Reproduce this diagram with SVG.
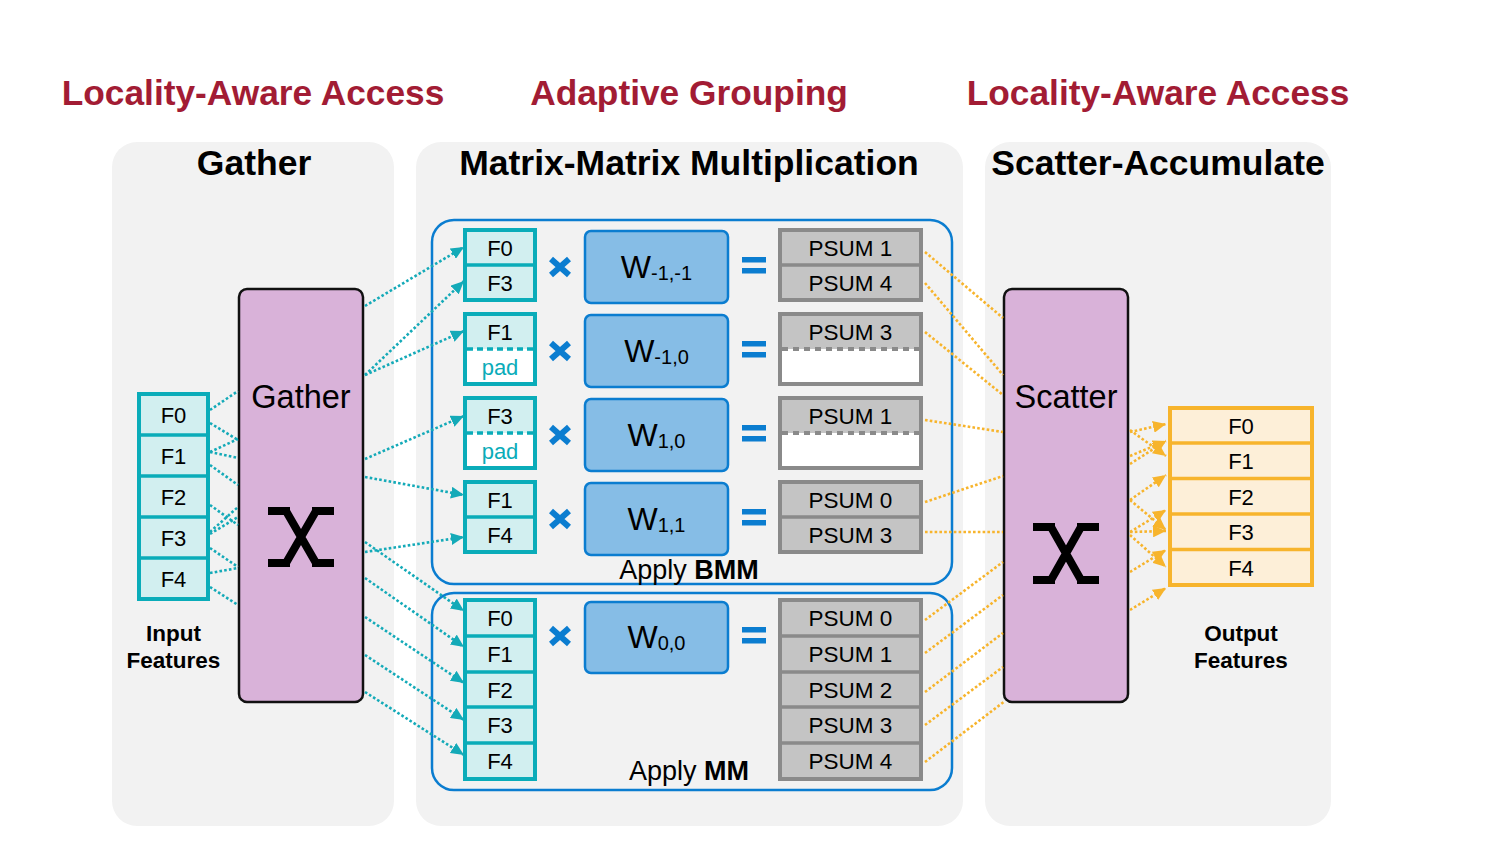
<svg xmlns="http://www.w3.org/2000/svg" width="1500" height="855" viewBox="0 0 1500 855">
<defs>
<style>
text{font-family:'Liberation Sans',Arial,sans-serif}
.panel{fill:#f2f2f2}
.hdr{font-size:35.3px;font-weight:bold;fill:#a21c34;text-anchor:middle}
.ttl{font-size:35.5px;font-weight:bold;fill:#000;text-anchor:middle}
.feat{fill:#d2eff0;stroke:#0aacb9;stroke-width:4}
.fdiv{stroke:#0aacb9;stroke-width:3.5}
.fdash{stroke:#0aacb9;stroke-width:3.5;stroke-dasharray:6 4}
.ft{font-size:22px;fill:#000;text-anchor:middle}
.pad{font-size:22px;fill:#0aacb9;text-anchor:middle}
.psum{fill:#c4c4c4;stroke:#8a8a8a;stroke-width:4}
.pdiv{stroke:#8a8a8a;stroke-width:3.5}
.pdash{stroke:#8a8a8a;stroke-width:4;stroke-dasharray:6 5}
.pt{font-size:22.5px;fill:#000;text-anchor:middle}
.wbox{fill:#86bde6;stroke:#0b7dd0;stroke-width:2.5}
.wt{fill:#000;text-anchor:middle}
.op{stroke:#0b7dd0;stroke-width:6;fill:none}
.eq{fill:#0b7dd0}
.grp{fill:none;stroke:#0b7dd0;stroke-width:2.5}
.xbox{fill:#d9b2d9;stroke:#111;stroke-width:2.5}
.xsym{fill:none;stroke:#000;stroke-width:8}
.big{font-size:32.5px;fill:#000;text-anchor:middle}
.lbl{font-size:22.5px;font-weight:bold;fill:#000;text-anchor:middle}
.apply{font-size:27px;fill:#000;text-anchor:middle}
.tc{fill:none;stroke:#14aab8;stroke-width:2.6;stroke-dasharray:2.6 2.2}
.oc{fill:none;stroke:#f7b42c;stroke-width:2.6;stroke-dasharray:2.6 2.2}
</style>
<marker id="ta" markerUnits="userSpaceOnUse" markerWidth="14" markerHeight="12" refX="13" refY="6" orient="auto">
<path d="M0,0 L13,6 L0,12 z" fill="#14aab8"/>
</marker>
<marker id="oa" markerUnits="userSpaceOnUse" markerWidth="14" markerHeight="12" refX="13" refY="6" orient="auto">
<path d="M0,0 L13,6 L0,12 z" fill="#f7b42c"/>
</marker>
</defs>
<rect width="1500" height="855" fill="#fff"/>

<g id="panels">
<rect class="panel" x="112" y="142" width="282" height="684" rx="25"/>
<rect class="panel" x="416" y="142" width="547" height="684" rx="25"/>
<rect class="panel" x="985" y="142" width="346" height="684" rx="25"/>
</g>

<g id="headers">
<text class="hdr" x="253" y="105">Locality-Aware Access</text>
<text class="hdr" x="689" y="105">Adaptive Grouping</text>
<text class="hdr" x="1158" y="105">Locality-Aware Access</text>
<text class="ttl" x="254" y="175">Gather</text>
<text class="ttl" x="689" y="175">Matrix-Matrix Multiplication</text>
<text class="ttl" x="1158" y="175">Scatter-Accumulate</text>
</g>

<g id="bmm-group">
<rect class="grp" x="432" y="220" width="520" height="364" rx="22"/>
<text class="apply" x="689" y="579">Apply <tspan font-weight="bold">BMM</tspan></text>
</g>
<g id="mm-group">
<rect class="grp" x="432" y="593" width="520" height="197" rx="22"/>
<text class="apply" x="689" y="780">Apply <tspan font-weight="bold">MM</tspan></text>
</g>

<g id="input-features">
<rect class="feat" x="139" y="394" width="69" height="205"/>
<line class="fdiv" x1="139" y1="435" x2="208" y2="435"/>
<line class="fdiv" x1="139" y1="476" x2="208" y2="476"/>
<line class="fdiv" x1="139" y1="517" x2="208" y2="517"/>
<line class="fdiv" x1="139" y1="558" x2="208" y2="558"/>
<text class="ft" x="173.5" y="422.5">F0</text>
<text class="ft" x="173.5" y="463.5">F1</text>
<text class="ft" x="173.5" y="504.5">F2</text>
<text class="ft" x="173.5" y="545.5">F3</text>
<text class="ft" x="173.5" y="586.5">F4</text>
<text class="lbl" x="173.5" y="641">Input</text>
<text class="lbl" x="173.5" y="668">Features</text>
</g>

<g id="gather">
<rect class="xbox" x="239" y="289" width="124" height="413" rx="8"/>
<text class="big" x="301" y="408">Gather</text>
<path class="xsym" d="M268,511 H290 M312,511 H334 M268,563 H290 M312,563 H334 M286,511 L316,563 M316,511 L286,563"/>
</g>

<g id="scatter">
<rect class="xbox" x="1004" y="289" width="124" height="413" rx="8"/>
<text class="big" x="1066" y="408">Scatter</text>
<path class="xsym" d="M1033,527 H1055 M1077,527 H1099 M1033,580 H1055 M1077,580 H1099 M1051,527 L1081,580 M1081,527 L1051,580"/>
</g>

<g id="output-features">
<rect x="1170" y="408" width="142" height="177" fill="#fdefd8" stroke="#f7b42c" stroke-width="4"/>
<line x1="1170" y1="443" x2="1312" y2="443" stroke="#f7b42c" stroke-width="3.5"/>
<line x1="1170" y1="478.5" x2="1312" y2="478.5" stroke="#f7b42c" stroke-width="3.5"/>
<line x1="1170" y1="514" x2="1312" y2="514" stroke="#f7b42c" stroke-width="3.5"/>
<line x1="1170" y1="549.5" x2="1312" y2="549.5" stroke="#f7b42c" stroke-width="3.5"/>
<text class="ft" x="1241" y="433.5">F0</text>
<text class="ft" x="1241" y="469">F1</text>
<text class="ft" x="1241" y="504.5">F2</text>
<text class="ft" x="1241" y="540">F3</text>
<text class="ft" x="1241" y="575.5">F4</text>
<text class="lbl" x="1241" y="641">Output</text>
<text class="lbl" x="1241" y="668">Features</text>
</g>

<g id="row1">
<rect class="feat" x="465" y="230" width="70" height="70"/>
<line class="fdiv" x1="465" y1="265" x2="535" y2="265"/>
<text class="ft" x="500" y="256">F0</text>
<text class="ft" x="500" y="291">F3</text>
<path class="op" d="M551,259 L569,275 M569,259 L551,275"/>
<rect class="wbox" x="585" y="231" width="143" height="72" rx="6"/>
<text class="wt" x="656.5" y="278"><tspan font-size="32">W</tspan><tspan font-size="20" dy="2">-1,-1</tspan></text>
<rect class="eq" x="742" y="257" width="24" height="5.5"/>
<rect class="eq" x="742" y="268" width="24" height="5.5"/>
<rect class="psum" x="780" y="230" width="141" height="70"/>
<line class="pdiv" x1="780" y1="265" x2="921" y2="265"/>
<text class="pt" x="850.5" y="256">PSUM 1</text>
<text class="pt" x="850.5" y="291">PSUM 4</text>
</g>

<g id="row2">
<rect x="465" y="314" width="70" height="35" fill="#d2eff0"/>
<rect x="465" y="349" width="70" height="35" fill="#fff"/>
<rect x="465" y="314" width="70" height="70" fill="none" stroke="#0aacb9" stroke-width="4"/>
<line class="fdash" x1="467" y1="349" x2="533" y2="349"/>
<text class="ft" x="500" y="340">F1</text>
<text class="pad" x="500" y="375">pad</text>
<path class="op" d="M551,343 L569,359 M569,343 L551,359"/>
<rect class="wbox" x="585" y="315" width="143" height="72" rx="6"/>
<text class="wt" x="656.5" y="362"><tspan font-size="32">W</tspan><tspan font-size="20" dy="2">-1,0</tspan></text>
<rect class="eq" x="742" y="341" width="24" height="5.5"/>
<rect class="eq" x="742" y="352" width="24" height="5.5"/>
<rect x="780" y="314" width="141" height="35" fill="#c4c4c4"/>
<rect x="780" y="349" width="141" height="35" fill="#fff"/>
<rect x="780" y="314" width="141" height="70" fill="none" stroke="#8a8a8a" stroke-width="4"/>
<line class="pdash" x1="782" y1="349" x2="919" y2="349"/>
<text class="pt" x="850.5" y="340">PSUM 3</text>
</g>

<g id="row3">
<rect x="465" y="398" width="70" height="35" fill="#d2eff0"/>
<rect x="465" y="433" width="70" height="35" fill="#fff"/>
<rect x="465" y="398" width="70" height="70" fill="none" stroke="#0aacb9" stroke-width="4"/>
<line class="fdash" x1="467" y1="433" x2="533" y2="433"/>
<text class="ft" x="500" y="424">F3</text>
<text class="pad" x="500" y="459">pad</text>
<path class="op" d="M551,427 L569,443 M569,427 L551,443"/>
<rect class="wbox" x="585" y="399" width="143" height="72" rx="6"/>
<text class="wt" x="656.5" y="446"><tspan font-size="32">W</tspan><tspan font-size="20" dy="2">1,0</tspan></text>
<rect class="eq" x="742" y="425" width="24" height="5.5"/>
<rect class="eq" x="742" y="436" width="24" height="5.5"/>
<rect x="780" y="398" width="141" height="35" fill="#c4c4c4"/>
<rect x="780" y="433" width="141" height="35" fill="#fff"/>
<rect x="780" y="398" width="141" height="70" fill="none" stroke="#8a8a8a" stroke-width="4"/>
<line class="pdash" x1="782" y1="433" x2="919" y2="433"/>
<text class="pt" x="850.5" y="424">PSUM 1</text>
</g>

<g id="row4">
<rect class="feat" x="465" y="482" width="70" height="70"/>
<line class="fdiv" x1="465" y1="517" x2="535" y2="517"/>
<text class="ft" x="500" y="508">F1</text>
<text class="ft" x="500" y="543">F4</text>
<path class="op" d="M551,511 L569,527 M569,511 L551,527"/>
<rect class="wbox" x="585" y="483" width="143" height="72" rx="6"/>
<text class="wt" x="656.5" y="530"><tspan font-size="32">W</tspan><tspan font-size="20" dy="2">1,1</tspan></text>
<rect class="eq" x="742" y="509" width="24" height="5.5"/>
<rect class="eq" x="742" y="520" width="24" height="5.5"/>
<rect class="psum" x="780" y="482" width="141" height="70"/>
<line class="pdiv" x1="780" y1="517" x2="921" y2="517"/>
<text class="pt" x="850.5" y="508">PSUM 0</text>
<text class="pt" x="850.5" y="543">PSUM 3</text>
</g>

<g id="mm-row">
<rect class="feat" x="465" y="600" width="70" height="179"/>
<line class="fdiv" x1="465" y1="636" x2="535" y2="636"/>
<line class="fdiv" x1="465" y1="672" x2="535" y2="672"/>
<line class="fdiv" x1="465" y1="707" x2="535" y2="707"/>
<line class="fdiv" x1="465" y1="743" x2="535" y2="743"/>
<text class="ft" x="500" y="626">F0</text>
<text class="ft" x="500" y="662">F1</text>
<text class="ft" x="500" y="697.5">F2</text>
<text class="ft" x="500" y="733">F3</text>
<text class="ft" x="500" y="769">F4</text>
<path class="op" d="M551,628 L569,644 M569,628 L551,644"/>
<rect class="wbox" x="585" y="602" width="143" height="71" rx="6"/>
<text class="wt" x="656.5" y="648"><tspan font-size="32">W</tspan><tspan font-size="20" dy="2">0,0</tspan></text>
<rect class="eq" x="742" y="627" width="24" height="5.5"/>
<rect class="eq" x="742" y="638" width="24" height="5.5"/>
<rect class="psum" x="780" y="600" width="141" height="179"/>
<line class="pdiv" x1="780" y1="636" x2="921" y2="636"/>
<line class="pdiv" x1="780" y1="672" x2="921" y2="672"/>
<line class="pdiv" x1="780" y1="707" x2="921" y2="707"/>
<line class="pdiv" x1="780" y1="743" x2="921" y2="743"/>
<text class="pt" x="850.5" y="626">PSUM 0</text>
<text class="pt" x="850.5" y="662">PSUM 1</text>
<text class="pt" x="850.5" y="697.5">PSUM 2</text>
<text class="pt" x="850.5" y="733">PSUM 3</text>
<text class="pt" x="850.5" y="769">PSUM 4</text>
</g>

<g id="connectors">
<path class="tc" d="M210,410 L238,391"/>
<path class="tc" d="M210,423 L238,440"/>
<path class="tc" d="M210,452 L238,439"/>
<path class="tc" d="M210,452 L238,458"/>
<path class="tc" d="M210,465 L238,485"/>
<path class="tc" d="M210,505 L238,525"/>
<path class="tc" d="M210,532 L238,507"/>
<path class="tc" d="M210,534 L238,517"/>
<path class="tc" d="M210,548 L238,567"/>
<path class="tc" d="M210,573 L238,568"/>
<path class="tc" d="M210,587 L238,605"/>
<path class="tc" marker-end="url(#ta)" d="M365,306 L464,247"/>
<path class="tc" marker-end="url(#ta)" d="M365,375 L464,281"/>
<path class="tc" marker-end="url(#ta)" d="M365,375 L464,331"/>
<path class="tc" marker-end="url(#ta)" d="M365,459 L464,416"/>
<path class="tc" marker-end="url(#ta)" d="M365,477 L464,495"/>
<path class="tc" marker-end="url(#ta)" d="M365,552 L464,537"/>
<path class="tc" marker-end="url(#ta)" d="M365,542 L464,611"/>
<path class="tc" marker-end="url(#ta)" d="M365,578 L464,647"/>
<path class="tc" marker-end="url(#ta)" d="M365,617 L464,683"/>
<path class="tc" marker-end="url(#ta)" d="M365,655 L464,720"/>
<path class="tc" marker-end="url(#ta)" d="M365,692 L464,755"/>
<path class="oc" d="M925,252 L1003,318"/>
<path class="oc" d="M925,283 L1003,375"/>
<path class="oc" d="M925,332 L1003,395"/>
<path class="oc" d="M925,420 L1003,432"/>
<path class="oc" d="M925,502 L1003,476"/>
<path class="oc" d="M925,532 L1003,532"/>
<path class="oc" d="M925,620 L1003,562"/>
<path class="oc" d="M925,653 L1003,595"/>
<path class="oc" d="M925,692 L1003,633"/>
<path class="oc" d="M925,725 L1003,667"/>
<path class="oc" d="M925,762 L1005,701"/>
<path class="oc" marker-end="url(#oa)" d="M1130,432 L1166,424"/>
<path class="oc" marker-end="url(#oa)" d="M1130,430 L1166,456"/>
<path class="oc" marker-end="url(#oa)" d="M1130,456 L1166,441"/>
<path class="oc" marker-end="url(#oa)" d="M1130,464 L1166,441"/>
<path class="oc" marker-end="url(#oa)" d="M1130,500 L1166,475"/>
<path class="oc" marker-end="url(#oa)" d="M1130,500 L1166,530"/>
<path class="oc" marker-end="url(#oa)" d="M1130,532 L1166,510"/>
<path class="oc" marker-end="url(#oa)" d="M1130,532 L1166,531"/>
<path class="oc" marker-end="url(#oa)" d="M1130,535 L1166,567"/>
<path class="oc" marker-end="url(#oa)" d="M1130,572 L1166,550"/>
<path class="oc" marker-end="url(#oa)" d="M1130,610 L1166,588"/>
</g>
</svg>
